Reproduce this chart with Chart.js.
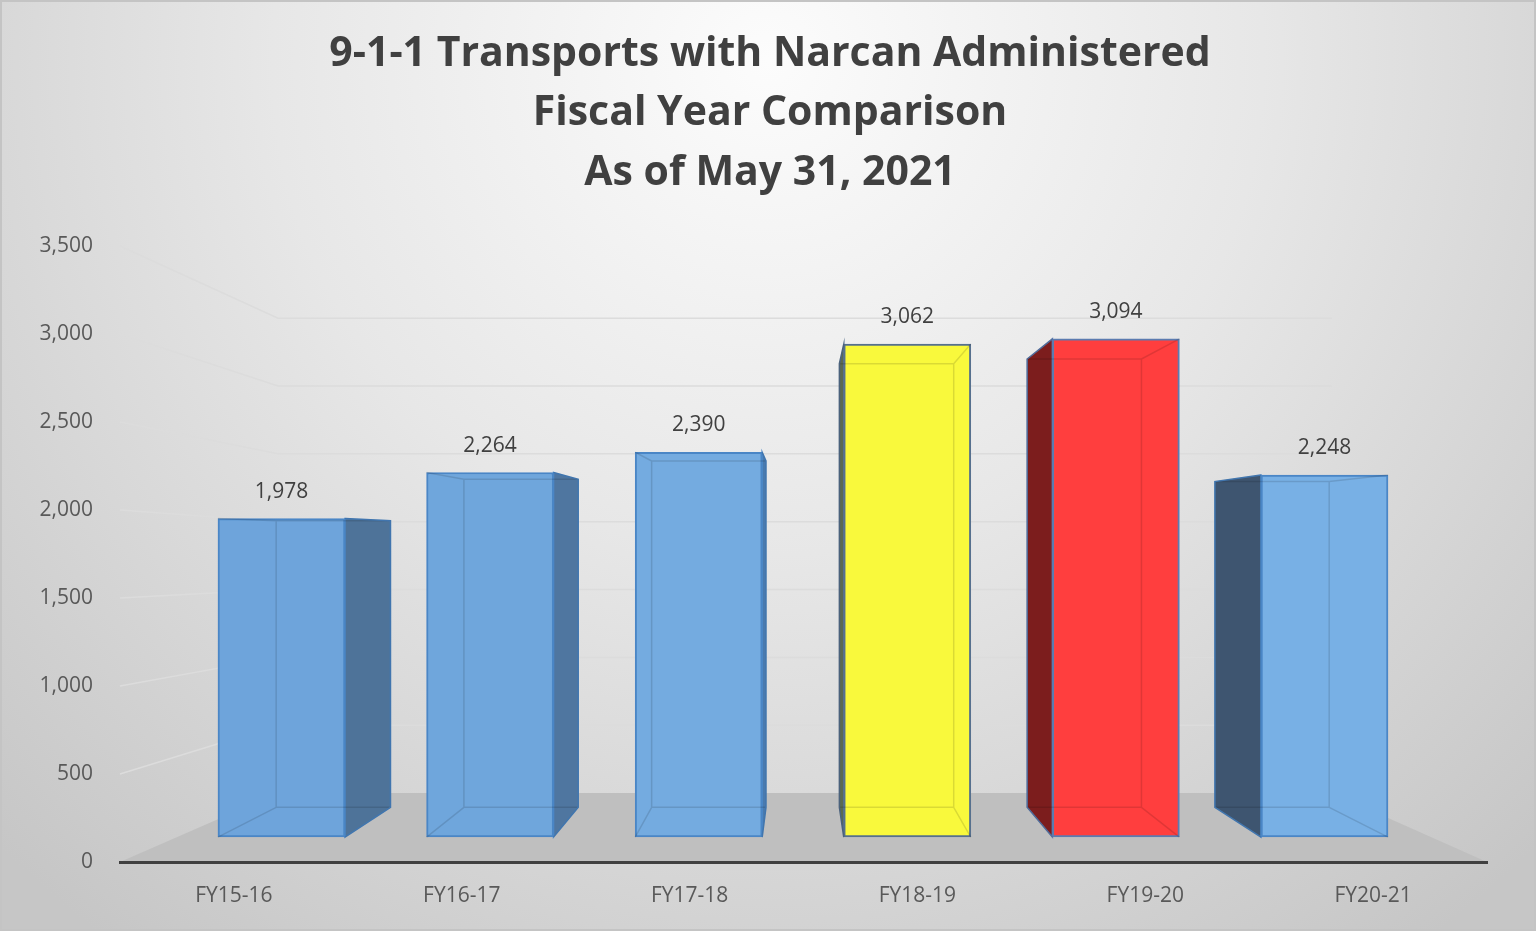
<!DOCTYPE html>
<html>
<head>
<meta charset="utf-8">
<script src="https://cdn.jsdelivr.net/npm/chart.js@4"></script>
<style>
  html, body { margin: 0; padding: 0; background: #e4e4e4; }
  #chartNarcan { display: block; }
</style>
</head>
<body>
<canvas id="chartNarcan" width="1536" height="931"></canvas>
<script>
// du lieu doc tu hinh
const titleLines = ['9-1-1 Transports with Narcan Administered', 'Fiscal Year Comparison', 'As of May 31, 2021'];
const categories = ['FY15-16', 'FY16-17', 'FY17-18', 'FY18-19', 'FY19-20', 'FY20-21'];
const transports = [1978, 2264, 2390, 3062, 3094, 2248];
const tickValues = [0, 500, 1000, 1500, 2000, 2500, 3000, 3500];

const frontColors = ['#6ea4db', '#6fa6dc', '#74abe0', '#f9f93c', '#ff3e3e', '#78b0e5'];
const sideColors = ['#4e7399', '#4f76a0', '#4a7aae', '#5b6a52', '#7c1d1d', '#3e5570'];
const edgeColors = ['#4a86c6', '#4a86c6', '#4a86c6', '#56708e', '#5b7bb0', '#4a86c6'];

// diem tu phoi canh (xap xi theo hinh goc)
const BAR_VP = { x: 800, y: 540 };
const BAR_K = 0.9;
const WALL_VP = { x: 810, y: 561 };
const WALL_K = 0.771;

const fmt = v => v.toLocaleString('en-US');

const wallPlugin = {
    id: 'wall3d',
    beforeDraw(chart) {
        const { ctx, chartArea: a, scales } = chart;
        ctx.save();
        const g = ctx.createRadialGradient(768, 60, 0, 768, 60, 1100);
        g.addColorStop(0, '#fcfcfc');
        g.addColorStop(0.45, '#e7e7e7');
        g.addColorStop(1, '#c6c6c6');
        ctx.fillStyle = g;
        ctx.fillRect(0, 0, chart.width, chart.height);
        ctx.strokeStyle = '#c4c4c4';
        ctx.lineWidth = 2;
        ctx.strokeRect(1, 1, chart.width - 2, chart.height - 2);

        const back = (x, y) => [WALL_VP.x + (x - WALL_VP.x) * WALL_K, WALL_VP.y + (y - WALL_VP.y) * WALL_K];

        // san
        const y0 = scales.y.getPixelForValue(0);
        const bl = back(a.left, y0), br = back(a.right, y0);
        ctx.beginPath();
        ctx.moveTo(a.left, y0);
        ctx.lineTo(a.right, y0);
        ctx.lineTo(br[0], br[1]);
        ctx.lineTo(bl[0], bl[1]);
        ctx.closePath();
        ctx.fillStyle = '#bfbfbf';
        ctx.fill();

        // luoi tren tuong
        ctx.strokeStyle = '#dcdcdc';
        ctx.lineWidth = 1.5;
        tickValues.forEach(v => {
            if (v === 0) return;
            const fy = scales.y.getPixelForValue(v);
            const p1 = back(a.left, fy), p2 = back(a.right, fy);
            ctx.beginPath();
            ctx.moveTo(a.left, fy);
            ctx.lineTo(p1[0], p1[1]);
            ctx.lineTo(p2[0], p2[1]);
            ctx.stroke();
        });

        // tieu de
        ctx.fillStyle = '#404040';
        ctx.font = 'bold 41px "Open Sans"';
        ctx.textAlign = 'center';
        ctx.textBaseline = 'middle';
        titleLines.forEach((t, i) => ctx.fillText(t, 770, 54 + i * 59.5));
        ctx.restore();
    }
};

function barBox(bar) {
    const { x, y, base, width } = bar.getProps(['x', 'y', 'base', 'width'], true);
    const L = x - width / 2, R = x + width / 2;
    const p = (px, py) => [BAR_VP.x + (px - BAR_VP.x) * BAR_K, BAR_VP.y + (py - BAR_VP.y) * BAR_K];
    return { x, y, base, L, R, p };
}

const boxPlugin = {
    id: 'box3d',
    beforeDatasetsDraw(chart) {
        const ctx = chart.ctx;
        const meta = chart.getDatasetMeta(0);
        ctx.save();
        meta.data.forEach((bar, i) => {
            const b = barBox(bar);
            const sx = b.R < BAR_VP.x ? b.R : b.L;
            const t = b.p(sx, b.y), u = b.p(sx, b.base);
            ctx.beginPath();
            ctx.moveTo(sx, b.y);
            ctx.lineTo(t[0], t[1]);
            ctx.lineTo(u[0], u[1]);
            ctx.lineTo(sx, b.base);
            ctx.closePath();
            ctx.fillStyle = sideColors[i];
            ctx.fill();
            ctx.strokeStyle = edgeColors[i];
            ctx.lineWidth = 1.5;
            ctx.stroke();
        });
        ctx.restore();
    },
    afterDatasetsDraw(chart) {
        const ctx = chart.ctx;
        const meta = chart.getDatasetMeta(0);
        ctx.save();
        meta.data.forEach((bar, i) => {
            const b = barBox(bar);
            const c1 = b.p(b.L, b.y), c2 = b.p(b.R, b.y), c3 = b.p(b.R, b.base), c4 = b.p(b.L, b.base);
            ctx.strokeStyle = 'rgba(0, 0, 0, 0.12)';
            ctx.lineWidth = 1.5;
            ctx.beginPath();
            ctx.moveTo(c1[0], c1[1]);
            ctx.lineTo(c2[0], c2[1]);
            ctx.lineTo(c3[0], c3[1]);
            ctx.lineTo(c4[0], c4[1]);
            ctx.closePath();
            ctx.moveTo(b.L, b.y); ctx.lineTo(c1[0], c1[1]);
            ctx.moveTo(b.R, b.y); ctx.lineTo(c2[0], c2[1]);
            ctx.moveTo(b.R, b.base); ctx.lineTo(c3[0], c3[1]);
            ctx.moveTo(b.L, b.base); ctx.lineTo(c4[0], c4[1]);
            ctx.stroke();

            ctx.fillStyle = '#404040';
            ctx.font = '21px "Open Sans"';
            ctx.textAlign = 'center';
            ctx.textBaseline = 'middle';
            ctx.fillText(fmt(transports[i]), b.x, b.y - 27);
        });
        ctx.restore();
    }
};

const ctxNarcan = document.getElementById('chartNarcan');
const chartNarcan = new Chart(ctxNarcan, {
    type: 'bar',
    data: {
        labels: categories,
        datasets: [{
            label: 'Transports',
            data: categories.map((c, i) => ({ x: i, y: transports[i] })),
            xAxisID: 'xb',
            yAxisID: 'yb',
            backgroundColor: frontColors,
            borderColor: edgeColors,
            borderWidth: 2,
            borderSkipped: false,
            barThickness: 127
        }]
    },
    options: {
        responsive: false,
        animation: false,
        layout: { padding: { top: 246, left: 0, right: 49, bottom: 0 } },
        plugins: {
            legend: { display: false },
            tooltip: { enabled: false },
            title: { display: false }
        },
        scales: {
            x: {
                type: 'category',
                offset: true,
                grid: { display: false },
                border: { display: true, color: '#404040', width: 3 },
                ticks: { color: '#595959', font: { family: '"Open Sans"', size: 21 }, padding: 13 },
                afterFit: s => { s.height = 69; }
            },
            y: {
                type: 'linear',
                position: 'left',
                min: 0,
                max: 3500,
                afterBuildTicks: s => { s.ticks = tickValues.map(v => ({ value: v })); },
                grid: { display: false },
                border: { display: false },
                ticks: { color: '#595959', font: { family: '"Open Sans"', size: 21 }, padding: 19, callback: v => fmt(v) },
                afterFit: s => { s.width = 120; }
            },
            xb: { type: 'linear', display: false, offset: false, min: -0.774, max: 5.779 },
            yb: { type: 'linear', display: false, min: -155, max: 3671 }
        }
    },
    plugins: [wallPlugin, boxPlugin]
});
</script>
</body>
</html>
